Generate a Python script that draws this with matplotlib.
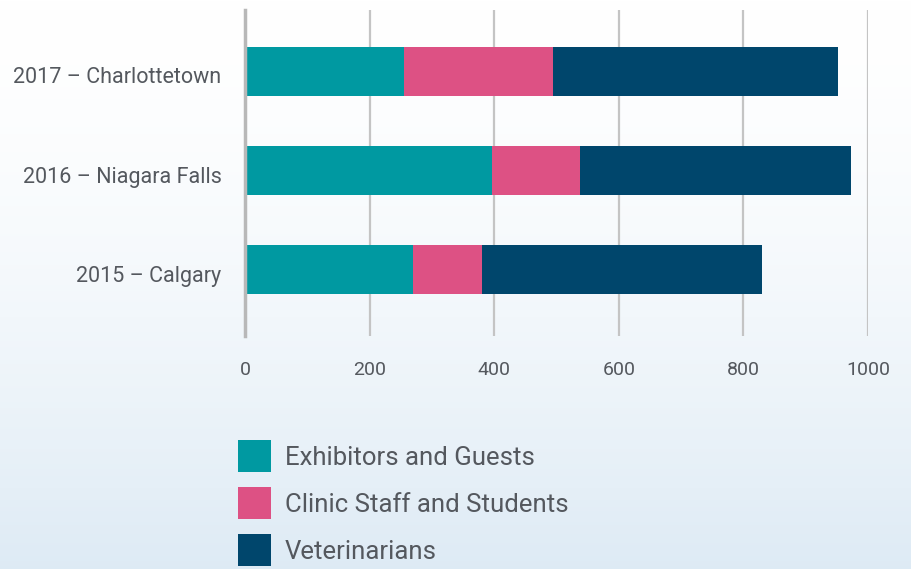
import matplotlib.pyplot as plt
import matplotlib.transforms as mtransforms
import numpy as np

venues = ["2015 – Calgary", "2016 – Niagara Falls", "2017 – Charlottetown"]
exhibitors = [270, 397, 256]
clinic_staff = [111, 140, 239]
veterinarians = [449, 435, 457]

series_names = ["Exhibitors and Guests", "Clinic Staff and Students", "Veterinarians"]
colors = ["#0099a1", "#dd5184", "#00466c"]
text_color = "#54585e"

plt.rcParams["font.family"] = ["Roboto", "DejaVu Sans"]

fig = plt.figure(figsize=(9.11, 5.69), dpi=100)

# background gradient, white at the top to pale blue at the bottom
bg = fig.add_axes([0, 0, 1, 1], zorder=-10)
grad = np.linspace(0, 1, 256)[:, None]
top = np.array([1.0, 1.0, 1.0])
bottom = np.array([0.87, 0.92, 0.96])
img = top + (bottom - top) * grad[..., None] ** 1.6
bg.imshow(img, aspect="auto", extent=[0, 1, 0, 1], origin="upper")
bg.axis("off")

ax = fig.add_axes([245 / 911, 1 - 336 / 569, (868 - 245) / 911, (336 - 10) / 569])
ax.patch.set_alpha(0)

y = np.arange(len(venues))
h = 0.49
left = np.zeros(len(venues))
bars = []
for vals, name, c in zip([exhibitors, clinic_staff, veterinarians], series_names, colors):
    b = ax.barh(y, vals, height=h, left=left, color=c, label=name, zorder=3)
    bars.append(b)
    left = left + np.array(vals)

ax.set_xlim(0, 1000)
ax.set_ylim(-0.67, 2.62)
ax.set_xticks(range(0, 1001, 200))
ax.set_yticks(y)
ax.set_yticklabels(venues)
ax.tick_params(axis="both", length=0, colors=text_color)
ax.tick_params(axis="x", labelsize=14, pad=18)
ax.tick_params(axis="y", labelsize=15.5, pad=17)
shift = mtransforms.ScaledTranslation(0, -4 / 100, fig.dpi_scale_trans)
for t in ax.get_yticklabels():
    t.set_va("center_baseline")
    t.set_transform(t.get_transform() + shift)

ax.grid(axis="x", color="#c4c4c4", linewidth=1.6, zorder=0)
for s in ["top", "right", "bottom"]:
    ax.spines[s].set_visible(False)
ax.spines["left"].set_color("#b8b8b8")
ax.spines["left"].set_linewidth(2.5)
ax.spines["left"].set_zorder(4)

leg = fig.legend(handles=bars, labels=series_names, loc="upper left",
                 bbox_to_anchor=(238 / 911, 1 - 440 / 569), frameon=False,
                 fontsize=18.5, handlelength=1.28, handleheight=1.55,
                 handletextpad=0.55, labelspacing=0.58, borderpad=0,
                 borderaxespad=0, labelcolor=text_color)

fig.savefig("out.png", dpi=100)
